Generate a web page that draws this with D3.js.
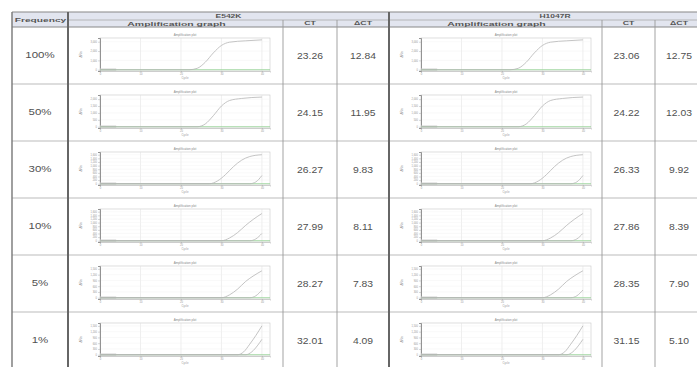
<!DOCTYPE html>
<html>
<head>
<meta charset="utf-8">
<script src="https://cdn.jsdelivr.net/npm/d3@7"></script>
<style>
  body { margin: 0; background: #fff; }
  svg { display: block; font-family: "Liberation Sans", Arial, sans-serif; }
</style>
</head>
<body>
<div id="chart"></div>
<script>
// table values
const freqs = ['100%', '50%', '30%', '10%', '5%', '1%'];
const e542kCT = [23.26, 24.15, 26.27, 27.99, 28.27, 32.01];
const e542kDCT = [12.84, 11.95, 9.83, 8.11, 7.83, 4.09];
const h1047rCT = [23.06, 24.22, 26.33, 27.86, 28.35, 31.15];
const h1047rDCT = [12.75, 12.03, 9.92, 8.39, 7.90, 5.10];

// amplification plots: y tick labels per row
const yTicksRows = [
  [0, 1000, 2000, 3000],
  [0, 500, 1000, 1500, 2000],
  [0, 200, 400, 600, 800, 1000, 1200, 1400, 1600],
  [0, 200, 400, 600, 800, 1000, 1200, 1400, 1600],
  [0, 300, 600, 900, 1200, 1500],
  [0, 300, 600, 900, 1200, 1500]
];
const yMaxRows = [3400, 2300, 1750, 1750, 1650, 1650];
const cycleTicks = [10, 20, 30, 40];

// curves [cycle, dRn] (mutant curve, reference curve)
const e542kCurves = [
  [[[0, 0], [22, 0], [24, 150], [26, 800], [28, 1800], [30, 2600], [32, 2950], [36, 3100], [40, 3200]]],
  [[[0, 0], [24, 0], [26, 200], [28, 800], [30, 1500], [32, 1900], [35, 2050], [40, 2150]]],
  [[[0, 0], [27, 0], [29, 150], [31, 500], [33, 950], [35, 1300], [37, 1500], [40, 1600]],
   [[0, 0], [37, 0], [38.5, 100], [40, 450]]],
  [[[0, 0], [30, 0], [32, 150], [34, 450], [36, 850], [38, 1200], [40, 1500]],
   [[0, 0], [37, 0], [38.5, 100], [40, 400]]],
  [[[0, 0], [30, 0], [32, 150], [34, 450], [36, 850], [38, 1150], [40, 1400]],
   [[0, 0], [37, 0], [38.5, 100], [40, 400]]],
  [[[0, 0], [34, 0], [35.5, 150], [37, 550], [38.5, 1000], [40, 1500]],
   [[0, 0], [36, 0], [37.5, 150], [39, 500], [40, 800]]]
];
const h1047rCurves = [
  [[[0, 0], [22, 0], [24, 150], [26, 800], [28, 1800], [30, 2600], [32, 2950], [36, 3100], [40, 3200]]],
  [[[0, 0], [24, 0], [26, 200], [28, 800], [30, 1500], [32, 1900], [35, 2050], [40, 2150]]],
  [[[0, 0], [27, 0], [29, 150], [31, 500], [33, 950], [35, 1300], [37, 1500], [40, 1600]],
   [[0, 0], [37, 0], [38.5, 100], [40, 450]]],
  [[[0, 0], [30, 0], [32, 150], [34, 450], [36, 850], [38, 1200], [40, 1500]],
   [[0, 0], [37, 0], [38.5, 100], [40, 400]]],
  [[[0, 0], [30, 0], [32, 150], [34, 450], [36, 850], [38, 1150], [40, 1400]],
   [[0, 0], [37, 0], [38.5, 100], [40, 400]]],
  [[[0, 0], [34, 0], [35.5, 150], [37, 550], [38.5, 1000], [40, 1500]],
   [[0, 0], [36, 0], [37.5, 150], [39, 500], [40, 800]]]
];

const width = 697, height = 367;
const headTop = 12, headMid = 20, headBot = 27, rowH = 57;
// column edges
const cols = {
  left: 12, freq: 68,
  g1: 68, ct1: 283, dct1: 337, end1: 389,
  g2: 389, ct2: 602, dct2: 655, end2: 703
};
const textCol = '#505050';
const lineCol = '#9a9a9a';

const svg = d3.select('#chart').append('svg')
  .attr('width', width)
  .attr('height', height);

// header band
svg.append('rect')
  .attr('x', cols.left).attr('y', headTop)
  .attr('width', width - cols.left).attr('height', headBot - headTop)
  .attr('fill', '#e2e5ef');

function hline(y, x1, x2, w, c) {
  svg.append('line').attr('x1', x1).attr('x2', x2).attr('y1', y).attr('y2', y)
    .attr('stroke', c || lineCol).attr('stroke-width', w || 1);
}
function vline(x, y1, y2, w, c) {
  svg.append('line').attr('x1', x).attr('x2', x).attr('y1', y1).attr('y2', y2)
    .attr('stroke', c || lineCol).attr('stroke-width', w || 1);
}
// the scanned table is stretched sideways, so text gets a horizontal scale
function label(x, y, t, size, weight, col, sx) {
  svg.append('text')
    .attr('transform', `translate(${x},${y}) scale(${sx || 1.25},1)`)
    .attr('text-anchor', 'middle').attr('dominant-baseline', 'central')
    .attr('font-size', size).attr('font-weight', weight || 'normal')
    .attr('fill', col || textCol).text(t);
}

// horizontal lines
hline(headTop, cols.left, width, 1.2, '#888');
hline(headMid, cols.g1, width, 0.8, '#aaa');
hline(headBot, cols.left, width, 1, '#888');
freqs.forEach((f, i) => {
  if (i > 0) hline(headBot + i * rowH, cols.left, width, 0.8, '#aaa');
});

// vertical lines
vline(cols.left, headTop, height, 1.4, '#777');
vline(cols.freq, headTop, height, 2, '#666');
vline(cols.end1, headTop, height, 2, '#666');
[cols.ct1, cols.dct1, cols.ct2, cols.dct2].forEach(x => vline(x, headMid, height, 0.9, '#999'));

// header text
const hc = '#555';
label((cols.left + cols.freq) / 2 + 0.5, (headTop + headBot) / 2, 'Frequency', 6, 'bold', hc, 1.7);
label((cols.g1 + cols.end1) / 2, (headTop + headMid) / 2, 'E542K', 5, 'bold', hc, 1.7);
label(555, (headTop + headMid) / 2, 'H1047R', 5, 'bold', hc, 1.7);
label((cols.g1 + cols.ct1) / 2 + 1, (headMid + headBot) / 2, 'Amplification graph', 6, 'bold', hc, 1.75);
label((cols.ct1 + cols.dct1) / 2, (headMid + headBot) / 2, 'CT', 5.5, 'bold', hc, 1.6);
label((cols.dct1 + cols.end1) / 2, (headMid + headBot) / 2, '\u0394CT', 5.5, 'bold', hc, 1.6);
label((cols.g2 + cols.ct2) / 2 + 1, (headMid + headBot) / 2, 'Amplification graph', 6, 'bold', hc, 1.75);
label((cols.ct2 + cols.dct2) / 2, (headMid + headBot) / 2, 'CT', 5.5, 'bold', hc, 1.6);
label((cols.dct2 + cols.end2) / 2, (headMid + headBot) / 2, '\u0394CT', 5.5, 'bold', hc, 1.6);

// amplification plot
function drawPlot(px, top, yTicks, yMax, curves) {
  const pw = 170, ph = 33;
  const x = d3.scaleLinear().domain([0, 42]).range([px, px + pw]);
  const y = d3.scaleLinear().domain([-yMax * 0.04, yMax]).range([top + ph, top]);
  const g = svg.append('g');

  g.append('text').attr('x', px + pw / 2).attr('y', top - 2.5)
    .attr('text-anchor', 'middle').attr('font-size', 3).attr('fill', '#888')
    .text('Amplification plot');

  g.append('rect').attr('x', px).attr('y', top).attr('width', pw).attr('height', ph)
    .attr('fill', '#fff').attr('stroke', '#c8c8c8').attr('stroke-width', 0.6);

  // grid
  g.selectAll('.gx').data(cycleTicks).enter().append('line')
    .attr('x1', d => x(d)).attr('x2', d => x(d))
    .attr('y1', top).attr('y2', top + ph)
    .attr('stroke', '#dedede').attr('stroke-width', 0.5);
  g.selectAll('.gy').data(yTicks).enter().append('line')
    .attr('x1', px).attr('x2', px + pw)
    .attr('y1', d => y(d)).attr('y2', d => y(d))
    .attr('stroke', '#f0f0f0').attr('stroke-width', 0.4);

  const yAxis = d3.axisLeft(y).tickValues(yTicks).tickSize(2).tickPadding(1);
  const ya = g.append('g').attr('transform', `translate(${px},0)`).call(yAxis);
  ya.selectAll('text').attr('font-size', 2.6).attr('fill', '#999');
  ya.selectAll('line').attr('stroke', '#999').attr('stroke-width', 0.4);
  ya.select('.domain').attr('stroke', '#888').attr('stroke-width', 0.9);

  const xAxis = d3.axisBottom(x).tickValues([0].concat(cycleTicks)).tickSize(1.5).tickPadding(1);
  const xa = g.append('g').attr('transform', `translate(0,${top + ph})`).call(xAxis);
  xa.selectAll('text').attr('font-size', 2.6).attr('fill', '#999');
  xa.selectAll('line').attr('stroke', '#999').attr('stroke-width', 0.4);
  xa.select('.domain').attr('stroke', '#aaa').attr('stroke-width', 0.5);

  g.append('text').attr('x', px + pw / 2).attr('y', top + ph + 8)
    .attr('text-anchor', 'middle').attr('font-size', 2.8).attr('fill', '#999')
    .text('Cycle');
  g.append('text').attr('transform', `translate(${px - 18},${top + ph / 2}) rotate(-90)`)
    .attr('text-anchor', 'middle').attr('font-size', 3.2).attr('fill', '#777')
    .text('\u0394Rn');

  // baseline block and green threshold
  g.append('rect').attr('x', x(0)).attr('y', y(0) - 1.2).attr('width', x(4) - x(0)).attr('height', 2.2)
    .attr('fill', '#cfcfcf');
  g.append('line').attr('x1', x(0)).attr('x2', px + pw)
    .attr('y1', y(0)).attr('y2', y(0))
    .attr('stroke', '#8fd08f').attr('stroke-width', 0.8);

  const line = d3.line().x(d => x(d[0])).y(d => y(d[1])).curve(d3.curveMonotoneX);
  g.selectAll('.curve').data(curves).enter().append('path')
    .attr('d', line).attr('fill', 'none')
    .attr('stroke', '#b5b5b5').attr('stroke-width', 0.8);
}

freqs.forEach((f, i) => {
  const r = headBot + i * rowH;
  const cy = r + rowH / 2;
  label((cols.left + cols.freq) / 2, cy, f, 8.5, 'normal', textCol, 1.35);
  label((cols.ct1 + cols.dct1) / 2, cy, e542kCT[i].toFixed(2), 9, 'normal', textCol, 1.15);
  label((cols.dct1 + cols.end1) / 2, cy, e542kDCT[i].toFixed(2), 9, 'normal', textCol, 1.15);
  label((cols.ct2 + cols.dct2) / 2 - 2, cy, h1047rCT[i].toFixed(2), 9, 'normal', textCol, 1.15);
  label((cols.dct2 + cols.end2) / 2, cy, h1047rDCT[i].toFixed(2), 9, 'normal', textCol, 1.15);
  drawPlot(100, r + 11, yTicksRows[i], yMaxRows[i], e542kCurves[i]);
  drawPlot(421, r + 11, yTicksRows[i], yMaxRows[i], h1047rCurves[i]);
});
</script>
</body>
</html>
